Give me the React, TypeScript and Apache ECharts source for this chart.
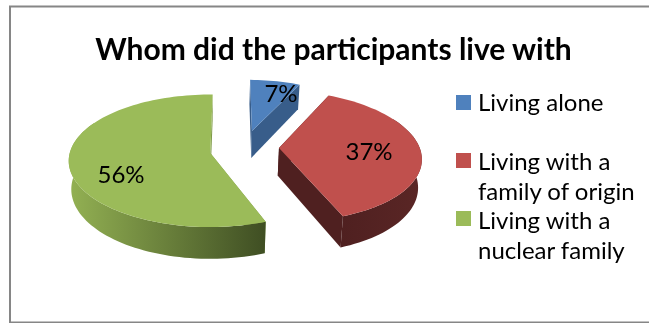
import React, { useEffect, useRef } from "react";
import * as echarts from "echarts";

const categories = ["Living alone", "Living with a\nfamily of origin", "Living with a\nnuclear family"];
const shares = [7, 37, 56];
const chartTitle = "Whom did the participants live with";

const topColors = ["#4f81bd", "#c0504d", "#9bbb59"];
const wallColors = ["#385d8a", "#4f2020", "#7f9a48"];
const rimStops = [
  ["#385d8a", "#385d8a"],
  ["#4f2020", "#5a2625"],
  ["#93b153", "#3f4e23"],
];

// Perspective model of the disc: plane coordinates are in radius units.
const CENTER_X = 212;
const CENTER_Y = 153;
const RADIUS_X = 142;
const RADIUS_Y = 66;
const TILT = 0.119;
const DEPTH = 28;
const FIRST_ANGLE = 1;
const explode = [
  [0.293, 0.347],
  [0.476, 0.076],
  [-0.012, 0],
];
const sliceScale = [0.93, 1, 0.99];
const labelAt = [
  [281, 92],
  [369, 150],
  [121, 173],
];
const legendIconY = [102, 160, 218];
const legendTextY = [101, 160, 219];
const legendLineGap = 30;

const project = (u: number, v: number): [number, number] => {
  const w = 1 + TILT * v;
  return [CENTER_X + (RADIUS_X * u) / w, CENTER_Y - (RADIUS_Y * v) / w];
};

const drop = (u: number, v: number): [number, number] => {
  const w = 1 + TILT * v;
  const [x, y] = project(u, v);
  return [CENTER_X + (x - CENTER_X) * 0.982, y + DEPTH / w];
};

const rimPoint = (i: number, deg: number): [number, number] => {
  const a = (deg * Math.PI) / 180;
  return [explode[i][0] + sliceScale[i] * Math.sin(a), explode[i][1] + sliceScale[i] * Math.cos(a)];
};

const total = shares.reduce((s, n) => s + n, 0);

const renderSlice = (params: any, api: any) => {
  const i = params.dataIndex;
  let start = FIRST_ANGLE;
  for (let k = 0; k < i; k++) start += (shares[k] / total) * 360;
  const sweep = (api.value(0) / total) * 360;

  const arc: [number, number][] = [];
  const steps = Math.max(8, Math.round(sweep / 2));
  for (let s = 0; s <= steps; s++) arc.push(rimPoint(i, start + (sweep * s) / steps));
  const apex: [number, number] = [explode[i][0], explode[i][1]];

  const topFace = [project(...apex), ...arc.map((p) => project(...p))];

  const wall = (a: [number, number], b: [number, number]) => [
    project(...a),
    project(...b),
    drop(...b),
    drop(...a),
  ];

  // Only the part of the rim turned towards the viewer gets a side strip.
  const front = arc.filter((p) => p[1] - explode[i][1] <= 0.5);
  const rimShape = front.length
    ? [...front.map((p) => project(...p)), ...front.map((p) => drop(...p)).reverse()]
    : [];

  const poly = (points: [number, number][], fill: any) => ({
    type: "polygon",
    shape: { points },
    style: { fill, stroke: "none" },
  });

  const children: any[] = [
    poly(wall(apex, arc[0]), wallColors[i]),
    poly(wall(apex, arc[arc.length - 1]), wallColors[i]),
  ];
  if (rimShape.length) {
    const gradient = new echarts.graphic.LinearGradient(
      0,
      0,
      1,
      0,
      [
        { offset: 0, color: rimStops[i][0] },
        { offset: 1, color: rimStops[i][1] },
      ],
      false
    );
    children.push(poly(rimShape, gradient));
  }
  children.push(poly(topFace, topColors[i]));
  children.push({
    type: "text",
    x: labelAt[i][0],
    y: labelAt[i][1],
    style: {
      text: `${api.value(0)}%`,
      fontFamily: "Lato",
      fontSize: 24,
      fill: "#000000",
      align: "center",
      verticalAlign: "middle",
    },
  });
  return { type: "group", children };
};

export default function App() {
  const ref = useRef<HTMLDivElement>(null);
  useEffect(() => {
    const chart = echarts.init(ref.current!, undefined, { renderer: "svg" });
    const legendItems = categories.flatMap((name, i) => [
      {
        type: "rect",
        shape: { x: 456, y: legendIconY[i] - 7, width: 15, height: 15 },
        style: { fill: topColors[i] },
      },
      ...name.split("\n").map((line, n) => ({
        type: "text",
        x: 478,
        y: legendTextY[i] + n * legendLineGap,
        style: {
          text: line,
          fontFamily: "Lato",
          fontSize: 24,
          lineHeight: 24,
          fill: "#000000",
          verticalAlign: "middle",
        },
      })),
    ]);
    chart.setOption({
      animation: false,
      title: {
        text: chartTitle,
        left: 328.5,
        top: 28,
        textAlign: "center",
        textStyle: { fontFamily: "Lato", fontSize: 30, fontWeight: "bold", color: "#000000" },
      },
      graphic: [
        {
          type: "rect",
          z: -1,
          shape: { x: 10, y: 6.5, width: 660, height: 316 },
          style: { fill: "#ffffff", stroke: "#868686", lineWidth: 2 },
        },
        ...legendItems,
      ],
      series: [
        {
          type: "custom",
          coordinateSystem: "none",
          renderItem: renderSlice,
          data: shares.map((value, i) => ({ name: categories[i], value: [value] })),
        },
      ],
    });
    return () => chart.dispose();
  }, []);
  return <div ref={ref} style={{ position: "fixed", left: 0, top: 0, width: 649, height: 323 }} />;
}
